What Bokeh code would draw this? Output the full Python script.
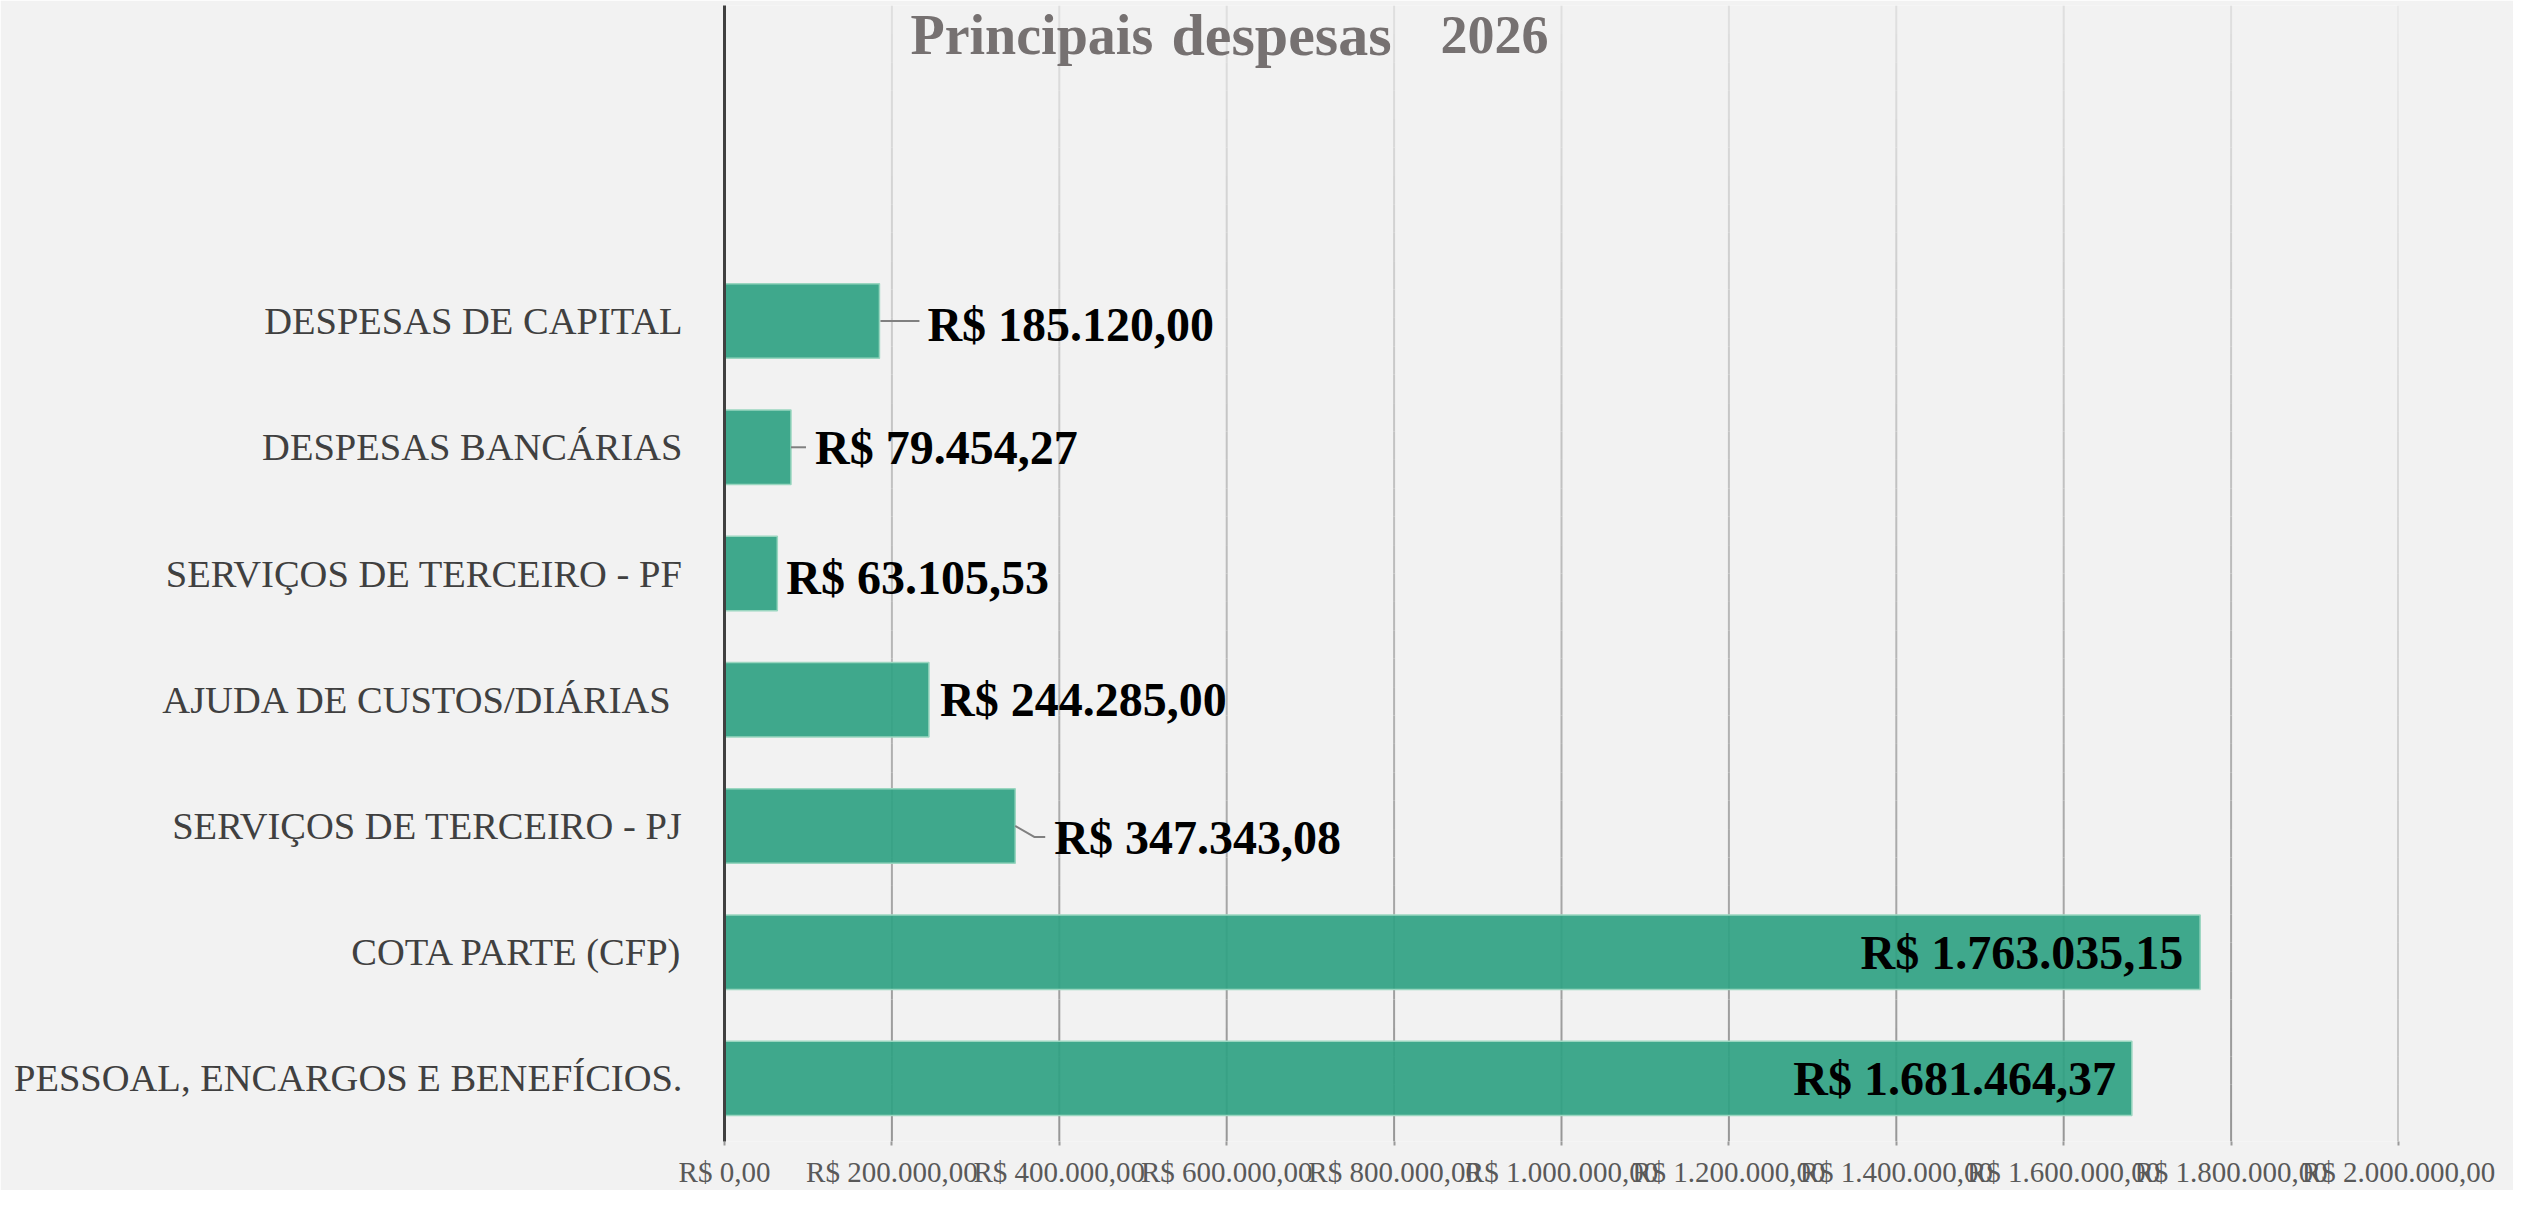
from bokeh.plotting import figure
from bokeh.models import Range1d, FixedTicker, Label, ColumnDataSource
from bokeh.core.properties import value
from bokeh.embed import file_html
from bokeh.resources import INLINE

# ---------------- data ----------------
categories = [
    "PESSOAL, ENCARGOS E BENEFÍCIOS.",
    "COTA PARTE (CFP)",
    "SERVIÇOS DE TERCEIRO - PJ",
    "AJUDA DE CUSTOS/DIÁRIAS ",
    "SERVIÇOS DE TERCEIRO - PF",
    "DESPESAS BANCÁRIAS",
    "DESPESAS DE CAPITAL",
]
values = [1681464.37, 1763035.15, 347343.08, 244285.00, 63105.53, 79454.27, 185120.00]
x_ticks = [0, 200000, 400000, 600000, 800000, 1000000, 1200000, 1400000, 1600000, 1800000, 2000000]
x_tick_labels = ["R$ 0,00", "R$ 200.000,00", "R$ 400.000,00", "R$ 600.000,00", "R$ 800.000,00",
                 "R$ 1.000.000,00", "R$ 1.200.000,00", "R$ 1.400.000,00", "R$ 1.600.000,00",
                 "R$ 1.800.000,00", "R$ 2.000.000,00"]
title_parts = ["Principais", "despesas", "2026"]

# ---------------- styling ----------------
FONT = "Liberation Serif"
label_dx = [-16, -17, 39, 11, 9, 24, 48]        # px offset of value labels from bar end
label_dy = [0, 0, 12, 0, 4, 0, 3]               # px downward offset
label_align = ["right", "right", "left", "left", "left", "left", "left"]
leaders = {2: [(0, 0), (19, 11), (30, 11)], 5: [(0, 0), (15, 0)], 6: [(1, 0), (40, 0)]}
title_pos = [(910, 35), (1171, 35), (1440, 35)]  # px (left, baseline-ish)
title_sizes = ["56px", "60px", "54px"]

W, H = 2513, 1190
ML, MR, MT, MB = 724, 115, 5, 48
FW, FH = W - ML - MR, H - MT - MB
XMAX = x_ticks[-1]
NSLOT = 9
ypx = FH / NSLOT
xpx = FW / XMAX


def brl(v):
    s = f"{v:,.2f}".replace(",", "X").replace(".", ",").replace("X", ".")
    return "R$ " + s


def px_to_data(px, py):
    return (px - ML) / xpx, (NSLOT - 0.5) - (py - MT) / ypx


p = figure(width=W, height=H, x_range=Range1d(0, XMAX), y_range=Range1d(-0.5, NSLOT - 0.5),
           output_backend="svg", toolbar_location=None,
           min_border_left=ML, min_border_right=MR, min_border_top=MT, min_border_bottom=MB)
p.background_fill_color = "#F2F2F2"
p.border_fill_color = "#F2F2F2"
p.outline_line_color = None
p.xgrid.grid_line_color = None
p.ygrid.grid_line_color = None

# gradient gridlines (light at top, darker at bottom)
gx, gy0, gy1, gc = [], [], [], []
N = 40
for t in x_ticks[1:]:
    for k in range(N):
        frac = (k + 0.5) / N
        g = int(round(150 + (224 - 150) * frac))
        gx.append(t)
        gy0.append(-0.5 + NSLOT * k / N)
        gy1.append(-0.5 + NSLOT * (k + 1) / N)
        gc.append("#%02x%02x%02x" % (g, g, g))
p.segment(x0=gx, y0=gy0, x1=gx, y1=gy1, line_color=gc, line_width=2)

idx = list(range(len(categories)))
src = ColumnDataSource(dict(y=idx, right=values, text=[brl(v) for v in values],
                            dx=label_dx, dy=label_dy, align=label_align))
p.hbar(y="y", right="right", left=0, height=0.59, source=src,
       fill_color="#30A283", fill_alpha=0.92, line_color="#9AD6C0", line_width=1.5)

# leader lines
lxs, lys = [], []
for i, pts in leaders.items():
    lxs.append([values[i] + dx / xpx for dx, dy in pts])
    lys.append([i - dy / ypx for dx, dy in pts])
p.multi_line(xs=lxs, ys=lys, line_color="#808080", line_width=2)

p.text(x="right", y="y", text="text", x_offset="dx", y_offset="dy", text_align="align",
       text_baseline="middle", source=src, text_font=value(FONT), text_font_style="bold",
       text_font_size="48px", text_color="#000000")

# title
for part, (tx, ty), fs in zip(title_parts, title_pos, title_sizes):
    dx_, dy_ = px_to_data(tx, ty)
    p.add_layout(Label(x=dx_, y=dy_, text=part, text_font=FONT, text_font_style="bold",
                       text_font_size=fs, text_color="#767171", text_baseline="alphabetic",
                       text_align="left"))

# axes
p.xaxis.ticker = FixedTicker(ticks=x_ticks)
p.xaxis.major_label_overrides = {t: lab for t, lab in zip(x_ticks, x_tick_labels)}
p.xaxis.axis_line_color = None
p.xaxis.major_tick_line_color = "#9A9A9A"
p.xaxis.major_tick_line_width = 2
p.xaxis.major_tick_out = 4
p.xaxis.major_tick_in = 0
p.xaxis.minor_tick_line_color = None
p.xaxis.major_label_text_font = FONT
p.xaxis.major_label_text_font_size = "29px"
p.xaxis.major_label_text_color = "#595959"
p.xaxis.major_label_standoff = 10

p.yaxis.ticker = FixedTicker(ticks=idx)
p.yaxis.major_label_overrides = {i: c for i, c in zip(idx, categories)}
p.yaxis.axis_line_color = "#404040"
p.yaxis.axis_line_width = 3
p.yaxis.major_tick_line_color = None
p.yaxis.major_tick_out = 0
p.yaxis.major_tick_in = 0
p.yaxis.minor_tick_line_color = None
p.yaxis.major_label_text_font = FONT
p.yaxis.major_label_text_font_size = "38.5px"
p.yaxis.major_label_text_color = "#404040"
p.yaxis.major_label_standoff = 42

open("out.html", "w").write(file_html(p, INLINE))
